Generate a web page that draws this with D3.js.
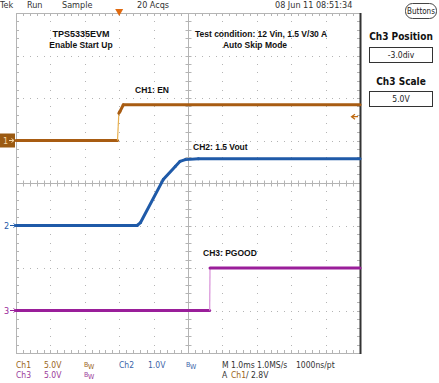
<!DOCTYPE html>
<html><head><meta charset="utf-8">
<script src="https://cdn.jsdelivr.net/npm/d3@7"></script>
<style>body{margin:0;background:#fff}svg{display:block}</style>
</head><body>
<svg id="c" width="439" height="383"></svg>
<script>
// ---- data (time in ms relative to trigger, volts) ----
const ch1Time  = [-3, -0.05, -0.03, -0.01, 0.02, 0.12, 7];
const ch1Volts = [0, 0, 1.6, 3.2, 3.4, 4.2, 4.2];
const ch2Time  = [-3, 0.52, 0.62, 1.28, 1.63, 1.77, 1.92, 2.3, 7];
const ch2Volts = [0, 0, 0.07, 1.08, 1.39, 1.51, 1.55, 1.57, 1.57];
const ch3Time  = [-3, 2.63, 2.64, 7];
const ch3Volts = [0, 0, 5.0, 5.0];
const channelScale = [5.0, 1.0, 5.0];      // V/div
const channelPosition = [1.0, -1.0, -3.0]; // div
const channelColor = ["#a85c12", "#1f5aa8", "#9a1e9a"];
const channelEdgeColor = ["#e8b050", "#7aa0d8", "#d890d8"];
const triggerLevel = 2.8;
const timeDomain = [-3, 7];
const divDomain = [-4, 4];

const headerLabels = [["Tek", 0], ["Run", 27], ["Sample", 62], ["20 Acqs", 137], ["08 Jun 11 08:51:34", 275]];

const svg = d3.select("#c");
const L = 16, R = 360, T = 13, B = 353;
const x = d3.scaleLinear().domain(timeDomain).range([L, R]);
const y = d3.scaleLinear().domain(divDomain).range([B, T]);
const narrow = "'Liberation Sans Narrow','DejaVu Sans Condensed','Arial Narrow',sans-serif";
const sans = "'Liberation Sans',Arial,sans-serif";

// ---- grid ----
const g = svg.append("g");
const gridCol = "#b4b4b4";
const majorX = d3.range(timeDomain[0], timeDomain[1] + 1e-9, 1);
const majorY = d3.range(divDomain[0], divDomain[1] + 1e-9, 1);
const minorX = d3.range(timeDomain[0], timeDomain[1] + 1e-9, 0.2);
const minorY = d3.range(divDomain[0], divDomain[1] + 1e-9, 0.2);
majorX.slice(1, -1).forEach(t => {
  if (Math.abs(t - 2) < 1e-9) return;
  minorY.forEach(v => g.append("rect").attr("x", Math.round(x(t))).attr("y", Math.round(y(v))).attr("width", 1).attr("height", 1).attr("fill", gridCol));
});
majorY.slice(1, -1).forEach(v => {
  if (Math.abs(v) < 1e-9) return;
  minorX.forEach(t => g.append("rect").attr("x", Math.round(x(t))).attr("y", Math.round(y(v))).attr("width", 1).attr("height", 1).attr("fill", gridCol));
});
const cx = Math.round(x(2)) + 0.5, cy = Math.round(y(0)) + 0.5;
g.append("line").attr("x1", L).attr("x2", R).attr("y1", cy).attr("y2", cy).attr("stroke", gridCol);
g.append("line").attr("x1", cx).attr("x2", cx).attr("y1", T).attr("y2", B).attr("stroke", gridCol);
minorX.forEach(t => {
  const xx = Math.round(x(t)) + 0.5;
  g.append("line").attr("x1", xx).attr("x2", xx).attr("y1", cy - 3).attr("y2", cy + 3).attr("stroke", gridCol);
  g.append("line").attr("x1", xx).attr("x2", xx).attr("y1", T).attr("y2", T + 3).attr("stroke", gridCol);
  g.append("line").attr("x1", xx).attr("x2", xx).attr("y1", B - 3).attr("y2", B).attr("stroke", gridCol);
});
minorY.forEach(v => {
  const yy = Math.round(y(v)) + 0.5;
  g.append("line").attr("x1", cx - 3).attr("x2", cx + 3).attr("y1", yy).attr("y2", yy).attr("stroke", gridCol);
  g.append("line").attr("x1", L).attr("x2", L + 3).attr("y1", yy).attr("y2", yy).attr("stroke", gridCol);
  g.append("line").attr("x1", R - 3).attr("x2", R).attr("y1", yy).attr("y2", yy).attr("stroke", gridCol);
});
g.append("path").attr("d", `M${R},${T + 0.5}H${L + 0.5}V${B + 0.5}H${R}`).attr("fill", "none").attr("stroke", gridCol);
g.append("line").attr("x1", R + 0.5).attr("x2", R + 0.5).attr("y1", T).attr("y2", B + 1).attr("stroke", "#333").attr("stroke-width", 2);

// ---- traces ----
const traces = [[ch1Time, ch1Volts], [ch2Time, ch2Volts], [ch3Time, ch3Volts]];
traces.forEach(([ts, vs], i) => {
  const pts = ts.map((t, k) => [x(t), y(vs[k] / channelScale[i] + channelPosition[i])]);
  for (let k = 0; k < pts.length - 1; k++) {
    const [x0, y0] = pts[k], [x1, y1] = pts[k + 1];
    const steep = Math.abs(y1 - y0) > 4 * Math.abs(x1 - x0);
    svg.append("line").attr("x1", x0).attr("y1", y0).attr("x2", x1).attr("y2", y1)
      .attr("stroke", steep ? channelEdgeColor[i] : channelColor[i])
      .attr("stroke-width", steep ? 1.2 : 3).attr("stroke-linecap", steep ? "butt" : "round");
  }
});

// ---- ground markers ----
const gy = channelPosition.map(p => y(p));
svg.append("rect").attr("x", 0).attr("y", gy[0] - 7).attr("width", 15).attr("height", 14).attr("fill", "#9b5a12");
svg.append("text").attr("x", 3).attr("y", gy[0] + 3.5).text("1").attr("font-family", narrow).attr("font-size", 9).attr("fill", "#f4d8a8");
svg.append("path").attr("d", `M9,${gy[0]}H14M11.5,${gy[0] - 2}L14,${gy[0]}L11.5,${gy[0] + 2}`).attr("stroke", "#f4d8a8").attr("fill", "none");
[1, 2].forEach(i => {
  svg.append("text").attr("x", 4).attr("y", gy[i] + 3.5).text(String(i + 1)).attr("font-family", narrow).attr("font-size", 9).attr("fill", channelColor[i]);
  svg.append("path").attr("d", `M10,${gy[i]}H16M13.5,${gy[i] - 2}L16,${gy[i]}L13.5,${gy[i] + 2}`).attr("stroke", channelColor[i]).attr("fill", "none");
});
const tx = x(0);
svg.append("path").attr("d", `M${tx - 4},${T - 4}H${tx + 4}L${tx},${T + 3}Z`).attr("fill", "#e06a10");
const ty = y(triggerLevel / channelScale[0] + channelPosition[0]);
svg.append("path").attr("d", `M352,${ty}H358M355,${ty - 2.5}L351.5,${ty}L355,${ty + 2.5}`).attr("stroke", "#c06a10").attr("fill", "none").attr("stroke-width", 1.2);

// ---- header ----
headerLabels.forEach(([s, px]) => svg.append("text").attr("x", px).attr("y", 8).text(s)
  .attr("font-family", narrow).attr("font-size", 9).attr("fill", "#333"));
svg.append("rect").attr("x", 405.5).attr("y", 3.5).attr("width", 31).attr("height", 15).attr("rx", 7).attr("fill", "#fff").attr("stroke", "#444");
svg.append("text").attr("x", 421).attr("y", 14).attr("text-anchor", "middle").text("Buttons")
  .attr("font-family", narrow).attr("font-size", 8).attr("fill", "#222");

// ---- side panel ----
const side = [["Ch3 Position", "-3.0div", 40, 47], ["Ch3 Scale", "5.0V", 85, 91]];
side.forEach(([title, val, ty2, by]) => {
  svg.append("text").attr("x", 401).attr("y", ty2).attr("text-anchor", "middle").text(title)
    .attr("font-family", narrow).attr("font-weight", "bold").attr("font-size", 10).attr("fill", "#111");
  svg.append("rect").attr("x", 369.5).attr("y", by + 0.5).attr("width", 63).attr("height", 15).attr("fill", "#fff").attr("stroke", "#333");
  svg.append("text").attr("x", 401).attr("y", by + 11).attr("text-anchor", "middle").text(val)
    .attr("font-family", narrow).attr("font-size", 8.5).attr("fill", "#222");
});

// ---- annotations ----
const ann = [
  ["TPS5335EVM", 81, 37, "middle", 9], ["Enable Start Up", 81, 48, "middle", 8.5],
  ["Test condition: 12 Vin, 1.5 V/30 A", 261, 37, "middle", 8.5], ["Auto Skip Mode", 255, 48, "middle", 8.5],
  ["CH1: EN", 135, 93, "start", 8.5], ["CH2: 1.5 Vout", 193, 150, "start", 8.5], ["CH3: PGOOD", 203, 256, "start", 8.5]
];
ann.forEach(([s, px, py, a, fs]) => svg.append("text").attr("x", px).attr("y", py).attr("text-anchor", a).text(s)
  .attr("font-family", sans).attr("font-weight", "bold").attr("font-size", fs).attr("fill", "#111"));

// ---- footer ----
function bw(px, py, col) {
  const t = svg.append("text").attr("x", px).attr("y", py).attr("font-family", narrow).attr("font-size", 7).attr("fill", col);
  t.append("tspan").attr("dy", -1.5).text("B");
  t.append("tspan").attr("dy", 2).text("W");
}
const foot = (s, px, py, col) => svg.append("text").attr("x", px).attr("y", py).text(s)
  .attr("font-family", narrow).attr("font-size", 8.5).attr("fill", col);
foot("Ch1", 16, 368, "#9a6420"); foot("5.0V", 44, 368, "#9a6420"); bw(84, 368, "#9a6420");
foot("Ch2", 119, 368, "#3a64a8"); foot("1.0V", 148, 368, "#3a64a8"); bw(186, 368, "#3a64a8");
foot("M 1.0ms 1.0MS/s", 222, 368, "#333"); foot("1000ns/pt", 296, 368, "#333");
foot("Ch3", 16, 378, "#9a3a9a"); foot("5.0V", 44, 378, "#9a3a9a"); bw(84, 378, "#9a3a9a");
foot("A", 222, 378, "#333"); foot("Ch1", 231, 378, "#9a6420"); foot("/", 246, 378, "#333"); foot("2.8V", 251, 378, "#333");
</script>
</body></html>
